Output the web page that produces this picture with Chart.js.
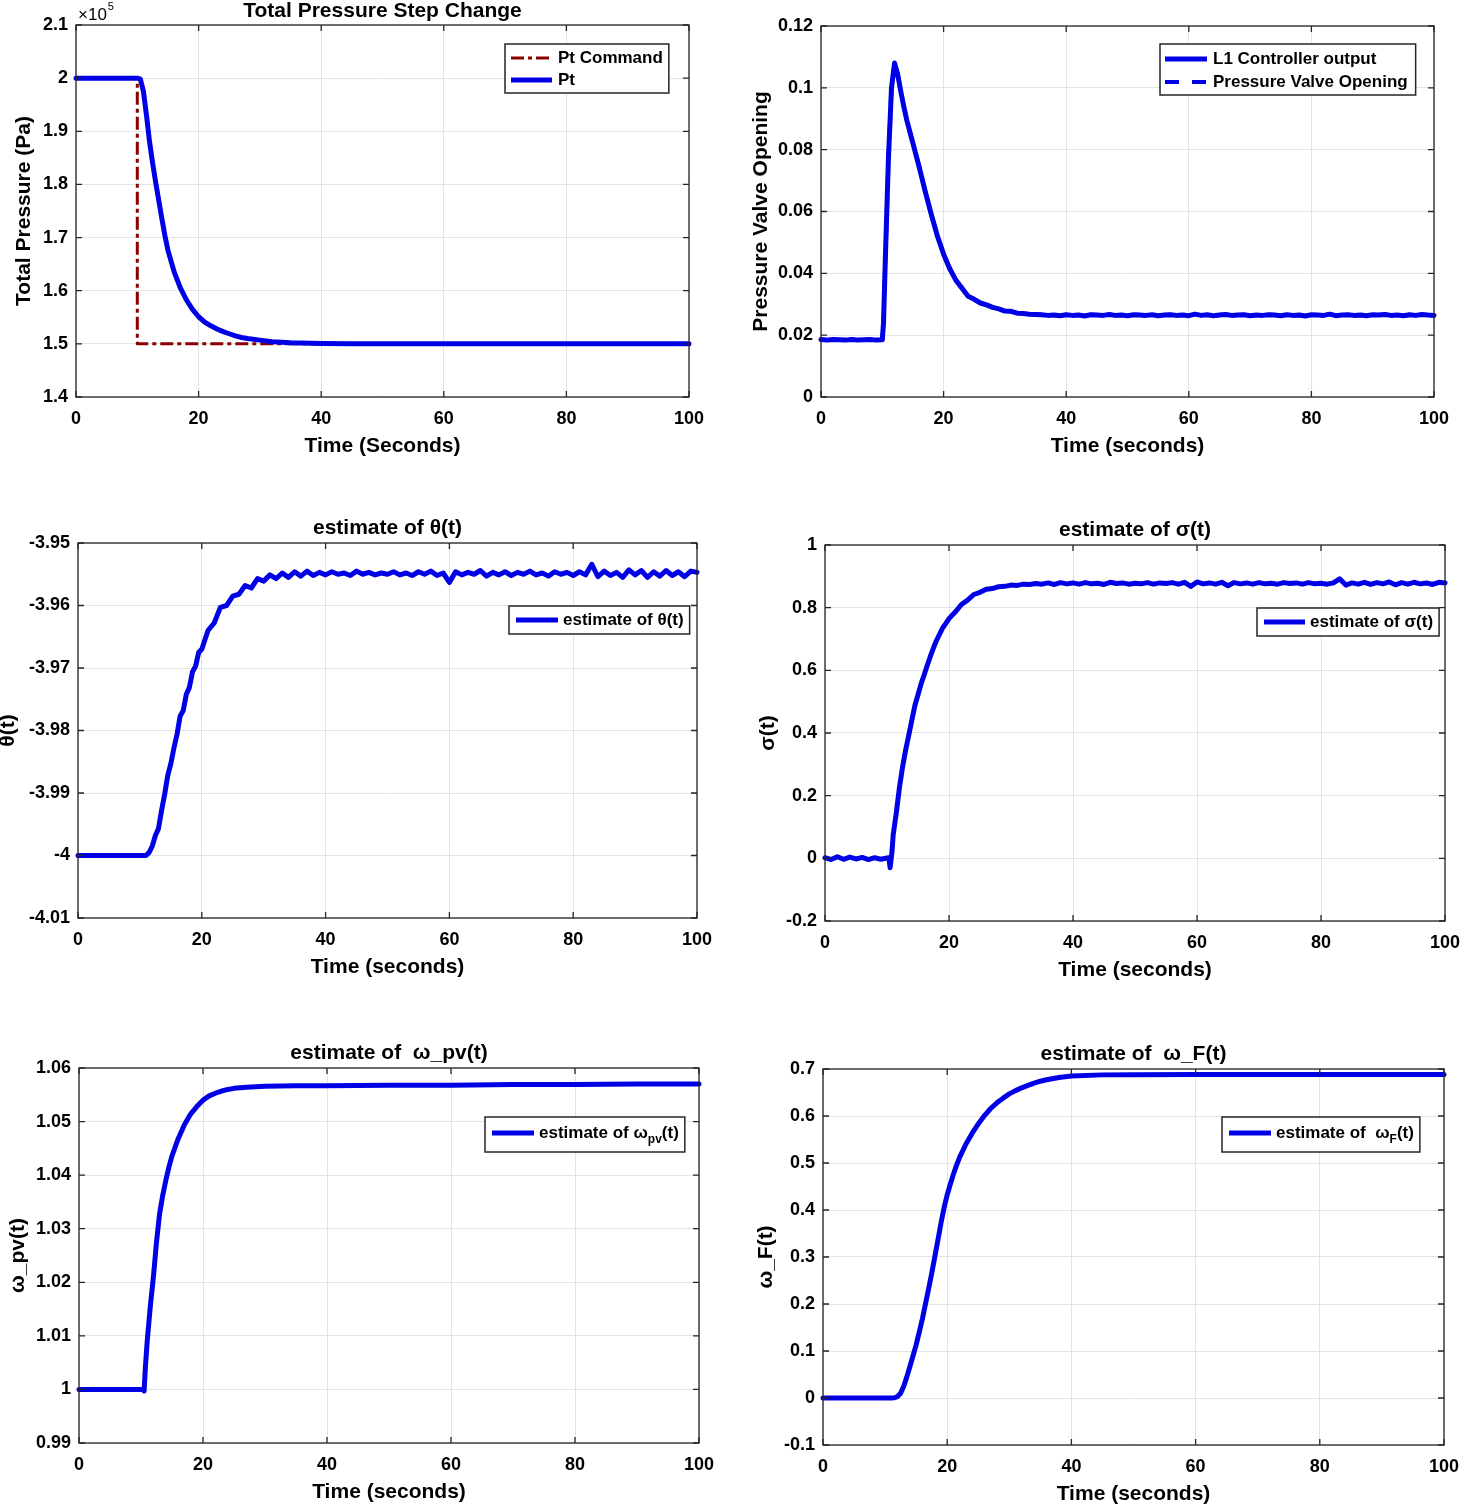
<!DOCTYPE html>
<html>
<head>
<meta charset="utf-8">
<script src="https://cdn.jsdelivr.net/npm/chart.js@4.4.1/dist/chart.umd.min.js"></script>
<style>
html,body{margin:0;padding:0;background:#fff;overflow:hidden;width:1460px;height:1505px;}
canvas{position:absolute;}
</style>
</head>
<body>
<canvas id="c1"></canvas>
<canvas id="c2"></canvas>
<canvas id="c3"></canvas>
<canvas id="c4"></canvas>
<canvas id="c5"></canvas>
<canvas id="c6"></canvas>
<script>
// ---------------- DATA ----------------
const xTicks = [0, 20, 40, 60, 80, 100];

// shared sample times
const tPre = [0,1,2,3,4,5,6,7,8,9,10];
const tSteady = [36,37,38,39,40,41,42,43,44,45,46,47,48,49,50,51,52,53,54,55,56,57,58,59,60,61,62,63,64,65,66,67,68,69,70,71,72,73,74,75,76,77,78,79,80,81,82,83,84,85,86,87,88,89,90,91,92,93,94,95,96,97,98,99,100];

// Panel 1: total pressure (Pa)
const pressureTicks = [140000,150000,160000,170000,180000,190000,200000,210000];
const ptCommandTime = [0, 10, 10, 100];
const ptCommand = [200000, 200000, 150000, 150000];
const ptTime = [0,10,10.5,11,11.5,12,12.5,13,13.5,14,14.5,15,16,17,18,19,20,21,22,23,24,25,26,27,28,30,32,35,40,45,100];
const ptValues = [200000,200000,199800,197500,193000,188000,184000,180400,177000,173600,170400,167600,163600,160600,158300,156500,155100,154100,153400,152800,152300,151900,151500,151200,151000,150700,150400,150200,150050,150000,150000];

// Panel 2: pressure valve opening
const valveTicks = [0,0.02,0.04,0.06,0.08,0.1,0.12];
const valvePre = [0.0186,0.0184,0.0186,0.0185,0.0184,0.0186,0.0184,0.0185,0.0186,0.0184,0.0185];
const valveTransTime = [10.2,10.5,11,11.5,12,12.5,13,13.5,14,15,16,17,18,19,20,21,22,23,24,25,26,27,28,29,30,31,32,33,34,35];
const valveTrans = [0.024,0.045,0.077,0.1,0.108,0.1045,0.099,0.094,0.0895,0.082,0.0745,0.0665,0.059,0.052,0.0462,0.0415,0.0378,0.0352,0.0326,0.0316,0.0304,0.0298,0.029,0.0285,0.0278,0.0277,0.0271,0.027,0.0268,0.0267];
const valveSteady = [0.0266,0.0264,0.0265,0.0263,0.0266,0.0264,0.0265,0.0262,0.0266,0.0265,
  0.0264,0.0267,0.0264,0.0265,0.0263,0.0266,0.0265,0.0264,0.0266,0.0263,
  0.0265,0.0266,0.0264,0.0265,0.0263,0.0268,0.0264,0.0266,0.0263,0.0265,
  0.0267,0.0264,0.0265,0.0266,0.0263,0.0265,0.0264,0.0266,0.0265,0.0263,
  0.0266,0.0264,0.0265,0.0262,0.0266,0.0265,0.0264,0.0268,0.0263,0.0265,
  0.0266,0.0264,0.0265,0.0263,0.0266,0.0265,0.0267,0.0264,0.0265,0.0263,
  0.0266,0.0264,0.0267,0.0265,0.0264];

// Panel 3: theta estimate
const thetaTicks = [-4.01,-4,-3.99,-3.98,-3.97,-3.96,-3.95];
const thetaTransTime = [0,11,11.5,12,12.5,13,13.5,14,14.5,15,15.5,16,16.5,17,17.5,18,18.5,19,19.5,20,21,22,23,24,25,26,27,28,29,30,31,32,33,34,35];
const thetaTrans = [-4,-4,-3.9995,-3.9985,-3.9968,-3.9957,-3.9928,-3.9902,-3.9872,-3.9853,-3.9828,-3.9806,-3.9777,-3.9768,-3.9742,-3.9731,-3.9706,-3.9697,-3.9675,-3.967,-3.964,-3.9628,-3.9603,-3.96,-3.9585,-3.9582,-3.9568,-3.9572,-3.9557,-3.9561,-3.9551,-3.9557,-3.9548,-3.9555,-3.9546];
const thetaSteady = [-3.9553,-3.9545,-3.9552,-3.9547,-3.9551,-3.9546,-3.955,-3.9548,-3.9552,-3.9545,
  -3.955,-3.9547,-3.9551,-3.9548,-3.955,-3.9546,-3.9551,-3.9548,-3.9552,-3.9546,
  -3.955,-3.9545,-3.9552,-3.9548,-3.9563,-3.9546,-3.9551,-3.9547,-3.955,-3.9544,
  -3.9553,-3.9547,-3.9551,-3.9546,-3.9552,-3.9547,-3.955,-3.9545,-3.9551,-3.9548,
  -3.9553,-3.9546,-3.955,-3.9547,-3.9552,-3.9546,-3.9551,-3.9534,-3.9554,-3.9545,
  -3.9552,-3.9547,-3.9555,-3.9543,-3.9551,-3.9544,-3.9555,-3.9546,-3.9553,-3.9544,
  -3.9552,-3.9546,-3.9554,-3.9545,-3.9547];

// Panel 4: sigma estimate
const sigmaTicks = [-0.2,0,0.2,0.4,0.6,0.8,1];
const sigmaPre = [0.002,-0.004,0.005,-0.003,0.004,-0.002,0.003,-0.004,0.002,-0.003,0.001];
const sigmaTransTime = [10.3,10.5,10.8,11,11.5,12,12.5,13,13.5,14,14.5,15,15.5,16,16.5,17,17.5,18,18.5,19,19.5,20,21,22,23,24,25,26,27,28,29,30,31,32,33,34,35];
const sigmaTrans = [0.002,-0.03,0.02,0.075,0.145,0.225,0.29,0.345,0.392,0.44,0.488,0.522,0.557,0.586,0.616,0.645,0.672,0.696,0.716,0.736,0.75,0.765,0.786,0.81,0.824,0.842,0.849,0.859,0.861,0.867,0.868,0.872,0.871,0.875,0.874,0.877,0.875];
const sigmaSteady = [0.879,0.874,0.88,0.876,0.879,0.875,0.88,0.876,0.878,0.874,
  0.881,0.877,0.879,0.875,0.878,0.876,0.88,0.875,0.879,0.877,
  0.88,0.875,0.881,0.868,0.882,0.876,0.879,0.875,0.881,0.87,
  0.88,0.876,0.879,0.875,0.88,0.876,0.878,0.875,0.88,0.877,
  0.879,0.875,0.88,0.876,0.878,0.875,0.879,0.892,0.872,0.879,
  0.875,0.881,0.874,0.88,0.876,0.882,0.873,0.88,0.875,0.881,
  0.876,0.879,0.874,0.881,0.879];

// Panel 5: omega_pv estimate
const omegaPvTicks = [0.99,1,1.01,1.02,1.03,1.04,1.05,1.06];
const omegaPvTime = [0,10,10.3,10.5,10.7,11,11.5,12,12.5,13,13.5,14,14.5,15,16,17,18,19,20,21,22,23,24,25,27,30,35,40,50,60,70,80,90,100];
const omegaPv = [1,1,1,0.9997,1.004,1.009,1.0155,1.021,1.0275,1.0328,1.0362,1.039,1.0415,1.0436,1.0468,1.0494,1.0514,1.0528,1.054,1.0548,1.0553,1.0557,1.056,1.0562,1.0564,1.0566,1.0567,1.0567,1.0568,1.0568,1.0569,1.0569,1.057,1.057];

// Panel 6: omega_F estimate
const omegaFTicks = [-0.1,0,0.1,0.2,0.3,0.4,0.5,0.6,0.7];
const omegaFTime = [0,11,11.5,12,12.5,13,13.5,14,14.5,15,15.5,16,16.5,17,17.5,18,18.5,19,19.5,20,20.5,21,21.5,22,23,24,25,26,27,28,29,30,31,32,33,34,35,36,38,40,45,50,60,70,80,90,100];
const omegaF = [0,0,0.0005,0.003,0.01,0.025,0.045,0.067,0.09,0.113,0.14,0.168,0.2,0.232,0.265,0.3,0.336,0.372,0.405,0.432,0.455,0.476,0.495,0.512,0.54,0.563,0.583,0.601,0.616,0.628,0.638,0.647,0.654,0.66,0.665,0.67,0.674,0.677,0.682,0.685,0.6875,0.688,0.6885,0.6885,0.6885,0.6885,0.6885];

// ---------------- RENDERING ----------------
const FAM = "'Liberation Sans', Arial, Helvetica, sans-serif";
const FS_TICK = 18, FS_LABEL = 21, FS_LEG = 17, LH = FS_LABEL * 1.2;
const BLUE = '#0000e6', DARKRED = '#8c0000', GRID = '#dfe4e4', AXIS = '#262626';
const PAD_R = 30;

Chart.defaults.font.family = FAM;
Chart.defaults.font.weight = 'bold';
Chart.defaults.color = '#000';

function pts(xs, ys) { return xs.map((x, i) => ({x: x, y: ys[i]})); }
function fmt(v) { return String(Number(v.toPrecision(6))); }

function parseRich(s) {
  const parts = []; const re = /_\{([^}]*)\}/g; let last = 0, m;
  while ((m = re.exec(s))) {
    if (m.index > last) parts.push({t: s.slice(last, m.index), sub: false});
    parts.push({t: m[1], sub: true}); last = re.lastIndex;
  }
  if (last < s.length) parts.push({t: s.slice(last), sub: false});
  return parts;
}
function richWidth(ctx, s) {
  let w = 0;
  parseRich(s).forEach(p => { ctx.font = 'bold ' + (p.sub ? 12 : FS_LEG) + 'px ' + FAM; w += ctx.measureText(p.t).width; });
  return w;
}
function drawRich(ctx, s, x, y) {
  ctx.textBaseline = 'middle'; ctx.textAlign = 'left'; ctx.fillStyle = '#000';
  parseRich(s).forEach(p => {
    ctx.font = 'bold ' + (p.sub ? 12 : FS_LEG) + 'px ' + FAM;
    ctx.fillText(p.t, x, p.sub ? y + 7 : y);
    x += ctx.measureText(p.t).width;
  });
}

const matlabPlugin = {
  id: 'matlab',
  afterDatasetsDraw(chart, args, o) {
    const {ctx, chartArea: a} = chart;
    const x = chart.scales.x, y = chart.scales.y;
    ctx.save();
    ctx.strokeStyle = AXIS; ctx.lineWidth = 1.3;
    ctx.strokeRect(a.left, a.top, a.right - a.left, a.bottom - a.top);
    ctx.beginPath();
    x.ticks.forEach(t => { const px = x.getPixelForValue(t.value);
      ctx.moveTo(px, a.bottom); ctx.lineTo(px, a.bottom - 6);
      ctx.moveTo(px, a.top); ctx.lineTo(px, a.top + 6); });
    y.ticks.forEach(t => { const py = y.getPixelForValue(t.value);
      ctx.moveTo(a.left, py); ctx.lineTo(a.left + 6, py);
      ctx.moveTo(a.right, py); ctx.lineTo(a.right - 6, py); });
    ctx.stroke();
    ctx.restore();
  },
  afterDraw(chart, args, o) {
    const {ctx, chartArea: a} = chart;
    ctx.save();
    if (o.exponent) {
      ctx.fillStyle = '#000'; ctx.textBaseline = 'alphabetic'; ctx.textAlign = 'left';
      ctx.font = '17px ' + FAM;
      ctx.fillText('\u00d710', a.left + 2, a.top - 5);
      const w = ctx.measureText('\u00d710').width;
      ctx.font = '11px ' + FAM;
      ctx.fillText(o.exponent, a.left + 2 + w + 1, a.top - 15);
    }
    const lg = o.legend;
    if (lg) {
      const items = chart.data.datasets.filter(d => d.label);
      const tw = Math.max(...items.map(d => richWidth(ctx, d.label)));
      const w = lg.padL + lg.sample + lg.gap + tw + lg.padR;
      const bx = Math.round(a.right - lg.right - w), by = Math.round(a.top + lg.top);
      ctx.fillStyle = '#fff'; ctx.fillRect(bx, by, w, lg.height);
      ctx.strokeStyle = AXIS; ctx.lineWidth = 1.5; ctx.strokeRect(bx, by, w, lg.height);
      items.forEach((d, i) => {
        const cy = by + lg.first + i * lg.rowH;
        ctx.save();
        ctx.strokeStyle = d.borderColor; ctx.lineWidth = d.borderWidth;
        ctx.setLineDash(d.borderDash || []); ctx.lineCap = 'butt';
        ctx.beginPath(); ctx.moveTo(bx + lg.padL, cy); ctx.lineTo(bx + lg.padL + lg.sample, cy); ctx.stroke();
        ctx.restore();
        drawRich(ctx, d.label, bx + lg.padL + lg.sample + lg.gap, cy);
      });
    }
    ctx.restore();
  }
};

function line(label, data, color, width, dash, order) {
  return {label: label, data: data, borderColor: color, backgroundColor: color, borderWidth: width,
    borderDash: dash || [], pointRadius: 0, tension: 0, fill: false, clip: 4,
    borderCapStyle: dash ? 'butt' : 'round', borderJoinStyle: 'round', order: order || 0};
}

const panels = [
  {id: 'c1', col: 0, rect: [76, 25, 689, 397], title: 'Total Pressure Step Change', titleY: 11,
   yLabel: 'Total Pressure (Pa)', yLabelX: 24, xLabel: 'Time (Seconds)', yTicks: pressureTicks, yFactor: 1e5, exponent: '5',
   datasets: [line('Pt Command', pts(ptCommandTime, ptCommand), DARKRED, 3, [13, 4, 4, 4], 2),
              line('Pt', pts(ptTime, ptValues), BLUE, 5, null, 1)],
   legend: {right: 20, top: 19, height: 49, first: 14, rowH: 22, padL: 6, sample: 41, gap: 6, padR: 6}},
  {id: 'c2', col: 1, rect: [821, 26, 1434, 397], title: null,
   yLabel: 'Pressure Valve Opening', yLabelX: 761, xLabel: 'Time (seconds)', yTicks: valveTicks, yFactor: 1,
   datasets: [line('L1 Controller output', pts(tPre.concat(valveTransTime, tSteady), valvePre.concat(valveTrans, valveSteady)), BLUE, 5, null, 2),
              line('Pressure Valve Opening', pts(tPre.concat(valveTransTime, tSteady), valvePre.concat(valveTrans, valveSteady)), BLUE, 4, [14, 13], 1)],
   legend: {right: 18, top: 18, height: 51, first: 15, rowH: 23, padL: 5, sample: 42, gap: 6, padR: 8}},
  {id: 'c3', col: 0, rect: [78, 543, 697, 918], title: 'estimate of \u03b8(t)', titleY: 528,
   yLabel: '\u03b8(t)', yLabelX: 8, xLabel: 'Time (seconds)', yTicks: thetaTicks, yFactor: 1,
   datasets: [line('estimate of \u03b8(t)', pts(thetaTransTime.concat(tSteady), thetaTrans.concat(thetaSteady)), BLUE, 5)],
   legend: {right: 7, top: 63, height: 28, first: 14, rowH: 22, padL: 7, sample: 42, gap: 5, padR: 6}},
  {id: 'c4', col: 1, rect: [825, 545, 1445, 921], title: 'estimate of \u03c3(t)', titleY: 530,
   yLabel: '\u03c3(t)', yLabelX: 768, xLabel: 'Time (seconds)', yTicks: sigmaTicks, yFactor: 1,
   datasets: [line('estimate of \u03c3(t)', pts(tPre.concat(sigmaTransTime, tSteady), sigmaPre.concat(sigmaTrans, sigmaSteady)), BLUE, 5)],
   legend: {right: 6, top: 63, height: 28, first: 14, rowH: 22, padL: 7, sample: 41, gap: 5, padR: 6}},
  {id: 'c5', col: 0, rect: [79, 1068, 699, 1443], title: 'estimate of  \u03c9_pv(t)', titleY: 1053,
   yLabel: '\u03c9_pv(t)', yLabelX: 18, xLabel: 'Time (seconds)', yTicks: omegaPvTicks, yFactor: 1,
   datasets: [line('estimate of \u03c9_{pv}(t)', pts(omegaPvTime, omegaPv), BLUE, 5)],
   legend: {right: 14, top: 49, height: 35, first: 16, rowH: 22, padL: 7, sample: 42, gap: 5, padR: 6}},
  {id: 'c6', col: 1, rect: [823, 1069, 1444, 1445], title: 'estimate of  \u03c9_F(t)', titleY: 1054,
   yLabel: '\u03c9_F(t)', yLabelX: 766, xLabel: 'Time (seconds)', yTicks: omegaFTicks, yFactor: 1,
   datasets: [line('estimate of  \u03c9_{F}(t)', pts(omegaFTime, omegaF), BLUE, 5)],
   legend: {right: 24, top: 48, height: 35, first: 16, rowH: 22, padL: 7, sample: 42, gap: 5, padR: 6}}
];

panels.forEach(p => {
  const [l, t, r, b] = p.rect;
  const cl = p.col === 0 ? -10 : 740;
  const ct = t - 45;
  const cw = r + PAD_R - cl, ch = b + 75 - ct;
  const cv = document.getElementById(p.id);
  cv.width = cw; cv.height = ch;
  cv.style.left = cl + 'px'; cv.style.top = ct + 'px';
  cv.style.width = cw + 'px'; cv.style.height = ch + 'px';
  let padTop = 45, titleOpt = {display: false};
  if (p.title) {
    padTop = p.titleY - LH / 2 - ct;
    titleOpt = {display: true, text: p.title, fullSize: false, color: '#000',
      font: {size: FS_LABEL, weight: 'bold', lineHeight: 1.2},
      padding: {top: 0, bottom: 45 - padTop - LH}};
  }
  const yt = p.yTicks;
  new Chart(cv, {
    type: 'line',
    data: {datasets: p.datasets},
    options: {
      responsive: false, animation: false, devicePixelRatio: 1,
      layout: {padding: {left: 0, top: padTop, right: PAD_R, bottom: 0}},
      plugins: {legend: {display: false}, tooltip: {enabled: false}, title: titleOpt,
        matlab: {legend: p.legend, exponent: p.exponent}},
      scales: {
        x: {type: 'linear', min: xTicks[0], max: xTicks[xTicks.length - 1],
          afterBuildTicks: s => { s.ticks = xTicks.map(v => ({value: v})); },
          afterFit: s => { s.height = 75; },
          grid: {color: GRID, lineWidth: 1, drawTicks: false}, border: {display: false},
          ticks: {padding: 11, font: {size: FS_TICK, weight: 'bold'}, color: '#000', autoSkip: false, maxRotation: 0,
            callback: v => fmt(v)},
          title: {display: true, text: p.xLabel, color: '#000', font: {size: FS_LABEL, weight: 'bold', lineHeight: 1.2},
            padding: {top: 0, bottom: 75 - 49 - LH / 2}}},
        y: {type: 'linear', min: yt[0], max: yt[yt.length - 1],
          afterBuildTicks: s => { s.ticks = yt.map(v => ({value: v})); },
          afterFit: s => { s.width = l - cl; },
          grid: {color: GRID, lineWidth: 1, drawTicks: false}, border: {display: false},
          ticks: {padding: 8, font: {size: FS_TICK, weight: 'bold'}, color: '#000', autoSkip: false,
            callback: v => fmt(v / p.yFactor)},
          title: {display: true, text: p.yLabel, color: '#000', font: {size: FS_LABEL, weight: 'bold', lineHeight: 1.2},
            padding: {top: p.yLabelX - cl - LH / 2, bottom: 0}}}
      }
    },
    plugins: [matlabPlugin]
  });
});
</script>
</body>
</html>
